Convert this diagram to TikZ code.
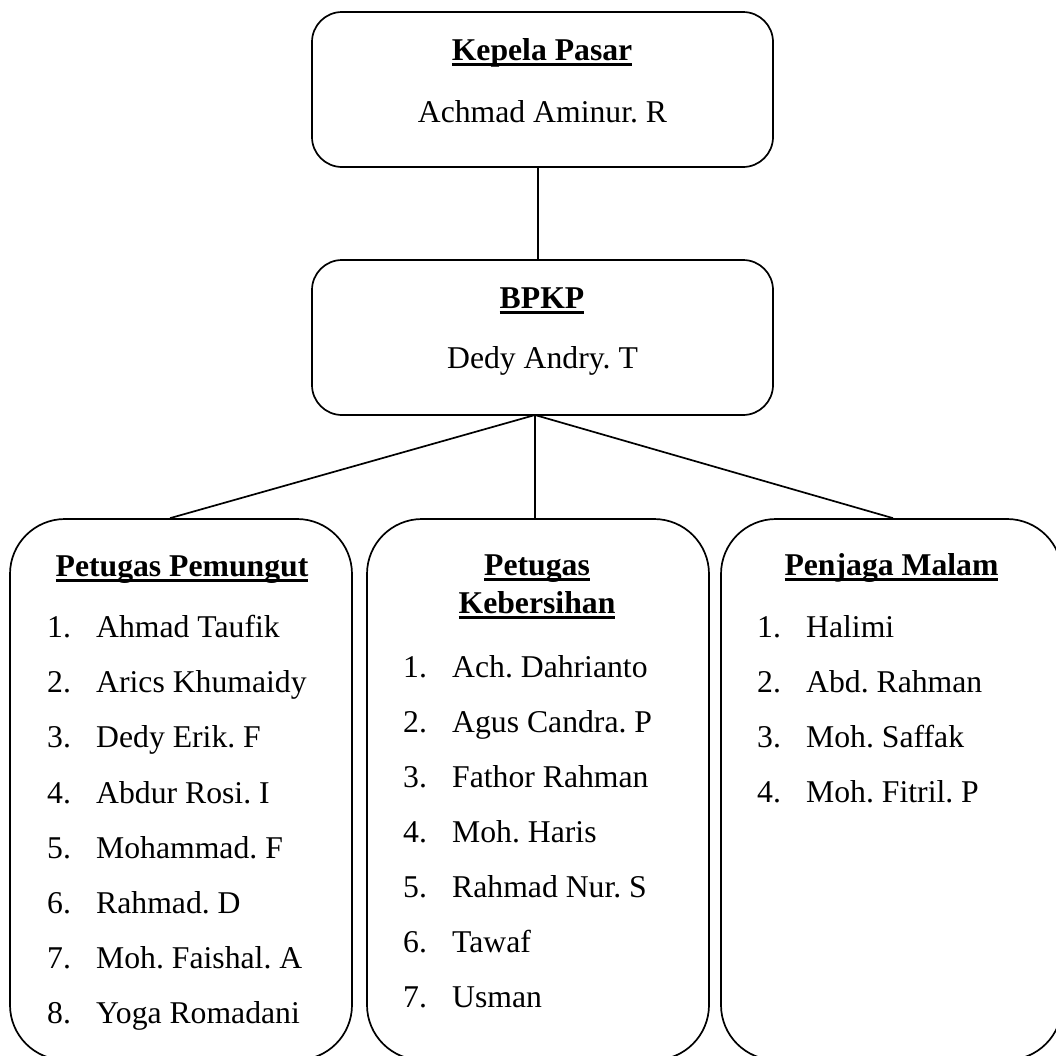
\documentclass[tikz,border=0pt]{standalone}
\usepackage{fontspec}
\setmainfont{Liberation Serif}
\frenchspacing
\newsavebox\ulbox
\newcommand\myul[1]{\sbox\ulbox{#1}\rlap{\rule[-5.5pt]{\wd\ulbox}{3pt}}\usebox\ulbox}
\begin{document}
\begin{tikzpicture}[x=1pt,y=-1pt,
  box/.style={draw,line width=1.7pt,inner sep=0pt,rounded corners=30pt},
  bigbox/.style={draw,line width=1.7pt,inner sep=0pt,rounded corners=55pt,minimum width=342pt,minimum height=541pt},
  txt/.style={inner sep=0pt,anchor=base,font=\fontsize{31.7}{38}\selectfont\frenchspacing},
  ttl/.style={txt,font=\fontsize{31.7}{38}\selectfont\bfseries},
  itm/.style={inner sep=0pt,anchor=base west,font=\fontsize{31.7}{38}\selectfont\frenchspacing},
  conn/.style={line width=1.7pt}]
\useasboundingbox (0,0) rectangle (1056,1055);
\clip (0,0) rectangle (1056,1055);
% top boxes
\node[box,minimum width=461pt,minimum height=155pt] (top) at (542.5,89.5) {};
\node[ttl] (topt) at (542,60) {\myul{Kepela Pasar}};
\node[txt] (topn) at (542.5,122) {Achmad Aminur. R};
\node[box,minimum width=461pt,minimum height=155pt] (bpkp) at (542.5,337.5) {};
\node[ttl] (bpkpt) at (542,308) {\myul{BPKP}};
\node[txt] (bpkpn) at (542.5,368) {Dedy Andry. T};
% bottom boxes
\node[bigbox] (pem) at (181,789.5) {};
\node[bigbox] (keb) at (538,789.5) {};
\node[bigbox,minimum width=341pt] (jaga) at (891.5,789.5) {};
% connectors
\coordinate (apex) at (535,415);
\draw[conn] ([xshift=-4.5pt]top.south) -- ([xshift=-4.5pt]bpkp.north);
\draw[conn] (apex) -- ([xshift=-11pt]pem.north);
\draw[conn] (apex) -- ([xshift=-3pt]keb.north);
\draw[conn] (apex) -- ([xshift=1.5pt]jaga.north);
% left list
\node[ttl] (pemt) at (182,576) {\myul{Petugas Pemungut}};
\foreach \n/\s [count=\i from 0] in {1/Ahmad Taufik,2/Arics Khumaidy,3/Dedy Erik. F,4/Abdur Rosi. I,5/Mohammad. F,6/Rahmad. D,7/Moh. Faishal. A,8/Yoga Romadani}{
  \node[itm] (pn\n) at (47,637.5+55.2*\i) {\n.};
  \node[itm] (ps\n) at (96,637.5+55.2*\i) {\s};
}
% middle list
\node[ttl] (kebt1) at (537,575) {\myul{Petugas}};
\node[ttl] (kebt2) at (537,613) {\myul{Kebersihan}};
\foreach \n/\s [count=\i from 0] in {1/Ach. Dahrianto,2/Agus Candra. P,3/Fathor Rahman,4/Moh. Haris,5/Rahmad Nur. S,6/Tawaf,7/Usman}{
  \node[itm] (kn\n) at (403,677+55*\i) {\n.};
  \node[itm] (ks\n) at (452,677+55*\i) {\s};
}
% right list
\node[ttl] (jagat) at (891.5,575) {\myul{Penjaga Malam}};
\foreach \n/\s [count=\i from 0] in {1/Halimi,2/Abd. Rahman,3/Moh. Saffak,4/Moh. Fitril. P}{
  \node[itm] (jn\n) at (757,637+55*\i) {\n.};
  \node[itm] (js\n) at (806,637+55*\i) {\s};
}
\end{tikzpicture}
\end{document}
